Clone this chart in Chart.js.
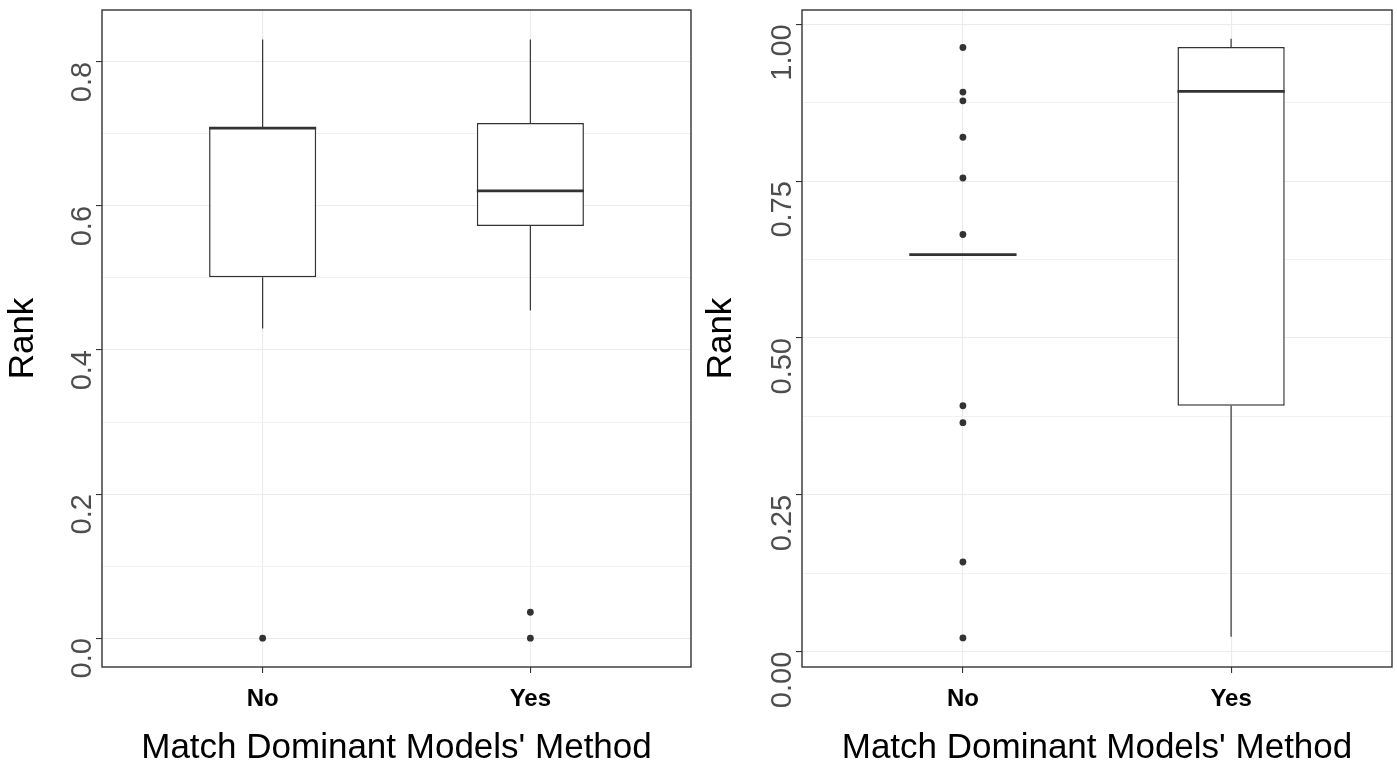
<!DOCTYPE html>
<html>
<head>
<meta charset="utf-8">
<script src="https://cdn.jsdelivr.net/npm/chart.js@4.4.1/dist/chart.umd.min.js"></script>
<style>
  html, body { margin: 0; padding: 0; background: #fff; }
  #wrap { position: relative; width: 1397px; height: 764px; }
  canvas { position: absolute; top: 0; }
  #left { left: 0; }
  #right { left: 698px; }
</style>
</head>
<body>
<div id="wrap">
  <canvas id="left" width="698" height="764"></canvas>
  <canvas id="right" width="699" height="764"></canvas>
</div>
<script>
const CATEGORIES = ['No', 'Yes']
const X_TITLE = "Match Dominant Models' Method"
const Y_TITLE = 'Rank'

// left panel: box stats per category
const LEFT_LOW = [0.430, 0.455]
const LEFT_Q1 = [0.501, 0.572]
const LEFT_MEDIAN = [0.708, 0.621]
const LEFT_Q3 = [0.709, 0.715]
const LEFT_HIGH = [0.831, 0.831]
const LEFT_OUTLIERS = [[0.0], [0.0, 0.036]]
const LEFT_TICKS = [0, 0.2, 0.4, 0.6, 0.8]
const LEFT_TICK_LABELS = ['0.0', '0.2', '0.4', '0.6', '0.8']
const LEFT_MINOR = [0.1, 0.3, 0.5, 0.7]
const LEFT_RANGE = [-0.040, 0.872]

// right panel
const RIGHT_LOW = [0.633, 0.024]
const RIGHT_Q1 = [0.633, 0.392]
const RIGHT_MEDIAN = [0.633, 0.893]
const RIGHT_Q3 = [0.633, 0.964]
const RIGHT_HIGH = [0.633, 0.977]
const RIGHT_OUTLIERS = [[0.963, 0.892, 0.878, 0.820, 0.755, 0.665, 0.392, 0.365, 0.143, 0.022], []]
const RIGHT_TICKS = [0, 0.25, 0.5, 0.75, 1.0]
const RIGHT_TICK_LABELS = ['0.00', '0.25', '0.50', '0.75', '1.00']
const RIGHT_MINOR = [0.125, 0.375, 0.625, 0.875]
const RIGHT_RANGE = [-0.0244, 1.0228]

const INK = '#333333'
const FONT = "'Liberation Sans', Arial, sans-serif"
const BOX_HALF = 0.2

const panelBorder = {
  id: 'panelBorder',
  afterDatasetsDraw(chart) {
    const { ctx, chartArea: a } = chart
    ctx.save()
    ctx.strokeStyle = INK
    ctx.lineWidth = 1.4
    ctx.strokeRect(a.left, a.top, a.right - a.left, a.bottom - a.top)
    ctx.restore()
  },
}

function boxDatasets(low, q1, med, q3, high, outliers) {
  const whisk = []
  const mids = []
  const pts = []
  CATEGORIES.forEach((c, i) => {
    const x = i + 1
    whisk.push({ x, y: low[i] }, { x, y: q1[i] }, { x, y: null }, { x, y: q3[i] }, { x, y: high[i] }, { x, y: null })
    mids.push({ x: x - BOX_HALF, y: med[i] }, { x: x + BOX_HALF, y: med[i] }, { x: x + BOX_HALF, y: null })
    outliers[i].forEach((v) => pts.push({ x, y: v }))
  })
  return [
    { type: 'line', data: whisk, borderColor: INK, borderWidth: 1.2, pointRadius: 0, spanGaps: false, order: 4 },
    {
      type: 'bar',
      data: CATEGORIES.map((c, i) => ({ x: i + 1, y: [q1[i], q3[i]] })),
      backgroundColor: '#ffffff',
      borderColor: INK,
      borderWidth: 1.5,
      borderSkipped: false,
      barPercentage: 0.4,
      categoryPercentage: 1,
      order: 3,
    },
    { type: 'line', data: mids, borderColor: INK, borderWidth: 2.8, pointRadius: 0, spanGaps: false, order: 2 },
    { type: 'scatter', data: pts, backgroundColor: INK, borderWidth: 0, pointRadius: 3.4, order: 1 },
  ]
}

function near(list, v) {
  return list.findIndex((m) => Math.abs(m - v) < 1e-9)
}

function makeChart(id, sets, range, majors, labels, minors, axisWidth, padRight) {
  new Chart(document.getElementById(id), {
    type: 'scatter',
    data: { datasets: sets },
    plugins: [panelBorder],
    options: {
      responsive: false,
      animation: false,
      devicePixelRatio: 1,
      layout: { padding: { top: 10, right: padRight, left: 0, bottom: 0 } },
      plugins: { legend: { display: false }, tooltip: { enabled: false } },
      scales: {
        x: {
          type: 'linear',
          min: 0.4,
          max: 2.6,
          offset: false,
          afterBuildTicks: (s) => { s.ticks = CATEGORIES.map((c, i) => ({ value: i + 1 })) },
          afterFit: (s) => { s.height = 97; s.paddingLeft = 0; s.paddingRight = 0 },
          border: { display: false },
          grid: { color: '#EBEBEB', lineWidth: 1.1, tickColor: INK, tickLength: 6, tickWidth: 1.1, offset: false },
          ticks: {
            autoSkip: false,
            maxRotation: 0,
            padding: 12,
            color: '#000',
            font: { family: FONT, size: 24, weight: 'bold' },
            callback: (v) => CATEGORIES[Math.round(v) - 1],
          },
          title: { display: true, text: X_TITLE, color: '#000', font: { family: FONT, size: 35 }, padding: { top: 0, bottom: -5 } },
        },
        y: {
          type: 'linear',
          min: range[0],
          max: range[1],
          afterBuildTicks: (s) => {
            s.ticks = majors.concat(minors).sort((a, b) => a - b).map((v) => ({ value: v }))
          },
          afterFit: (s) => { s.width = axisWidth; s.paddingTop = 0; s.paddingBottom = 0 },
          border: { display: false },
          grid: {
            color: (c) => (near(majors, c.tick.value) >= 0 ? '#EBEBEB' : '#F0F0F0'),
            lineWidth: (c) => (near(majors, c.tick.value) >= 0 ? 1.1 : 0.9),
            tickColor: (c) => (near(majors, c.tick.value) >= 0 ? INK : 'rgba(0,0,0,0)'),
            tickLength: 6,
            tickWidth: 1.1,
          },
          ticks: {
            autoSkip: false,
            minRotation: 90,
            maxRotation: 90,
            padding: 13,
            color: '#4D4D4D',
            font: { family: FONT, size: 29 },
            callback: (v) => {
              const k = near(majors, v)
              return k >= 0 ? labels[k] : ''
            },
          },
          title: { display: true, text: Y_TITLE, color: '#000', font: { family: FONT, size: 35 }, padding: { top: 2, bottom: 0 } },
        },
      },
    },
  })
}

makeChart('left', boxDatasets(LEFT_LOW, LEFT_Q1, LEFT_MEDIAN, LEFT_Q3, LEFT_HIGH, LEFT_OUTLIERS),
  LEFT_RANGE, LEFT_TICKS, LEFT_TICK_LABELS, LEFT_MINOR, 102, 7)
makeChart('right', boxDatasets(RIGHT_LOW, RIGHT_Q1, RIGHT_MEDIAN, RIGHT_Q3, RIGHT_HIGH, RIGHT_OUTLIERS),
  RIGHT_RANGE, RIGHT_TICKS, RIGHT_TICK_LABELS, RIGHT_MINOR, 104, 5)
</script>
</body>
</html>
